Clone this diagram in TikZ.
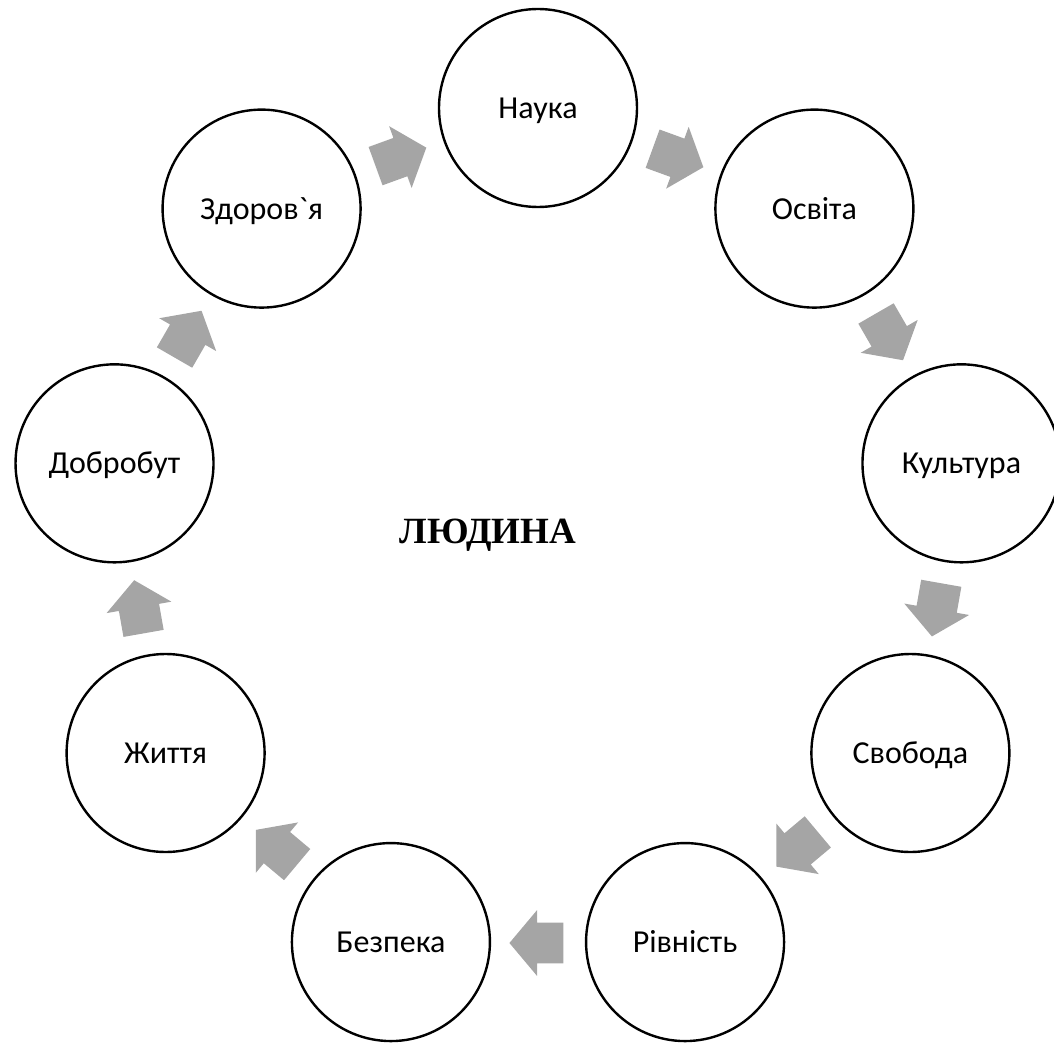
\documentclass[tikz,border=0pt]{standalone}
\usepackage{fontspec}
\setmainfont{Carlito}[Ligatures=TeXOff]
\newfontfamily\timesfont{Liberation Serif}
\usetikzlibrary{shapes.arrows}
\definecolor{arrowgray}{HTML}{A5A5A5}

\begin{document}
\begin{tikzpicture}[x=0.5pt,y=0.5pt,
    value/.style={circle, draw=black, line width=1.2pt, minimum size=99pt, inner sep=0pt, text height=10.5pt, text depth=0pt, font=\fontsize{16}{19}\selectfont},
    turn/.style={single arrow, fill=arrowgray, draw=none, minimum height=27pt, inner xsep=0pt, inner ysep=10pt, single arrow head extend=6.25pt, single arrow tip angle=100}]
    \useasboundingbox (-538,-507) rectangle (516,538);

    \node [value] (nauka) at (90:430) {Наука};
    \node [value] (osvita) at (50:430) {Освіта};
    \node [value] (kultura) at (10:430) {Культура};
    \node [value] (svoboda) at (-30:430) {Свобода};
    \node [value] (rivnist) at (-70:430) {Рівність};
    \node [value] (bezpeka) at (-110:430) {Безпека};
    \node [value] (zhyttia) at (-150:430) {Життя};
    \node [value] (dobrobut) at (170:430) {Добробут};
    \node [value] (zdorovia) at (130:430) {Здоров`я};

    \node [turn, rotate=-20, xshift=-3.5pt] (a1) at (70:405) {};
    \node [turn, rotate=-60, xshift=-3.5pt] (a2) at (30:405) {};
    \node [turn, rotate=-100, xshift=-3.5pt] (a3) at (-10:405) {};
    \node [turn, rotate=-140, xshift=-3.5pt] (a4) at (-50:405) {};
    \node [turn, rotate=-180, xshift=-3.5pt] (a5) at (-90:405) {};
    \node [turn, rotate=-220, xshift=-3.5pt] (a6) at (-130:405) {};
    \node [turn, rotate=-260, xshift=-3.5pt] (a7) at (-170:405) {};
    \node [turn, rotate=60, xshift=-3.5pt] (a8) at (150:405) {};
    \node [turn, rotate=20, xshift=-3.5pt] (a9) at (110:405) {};

    \node [font=\timesfont\bfseries\fontsize{18.5}{22}\selectfont] (ludyna) at (-50,3) {ЛЮДИНА};
\end{tikzpicture}
\end{document}
